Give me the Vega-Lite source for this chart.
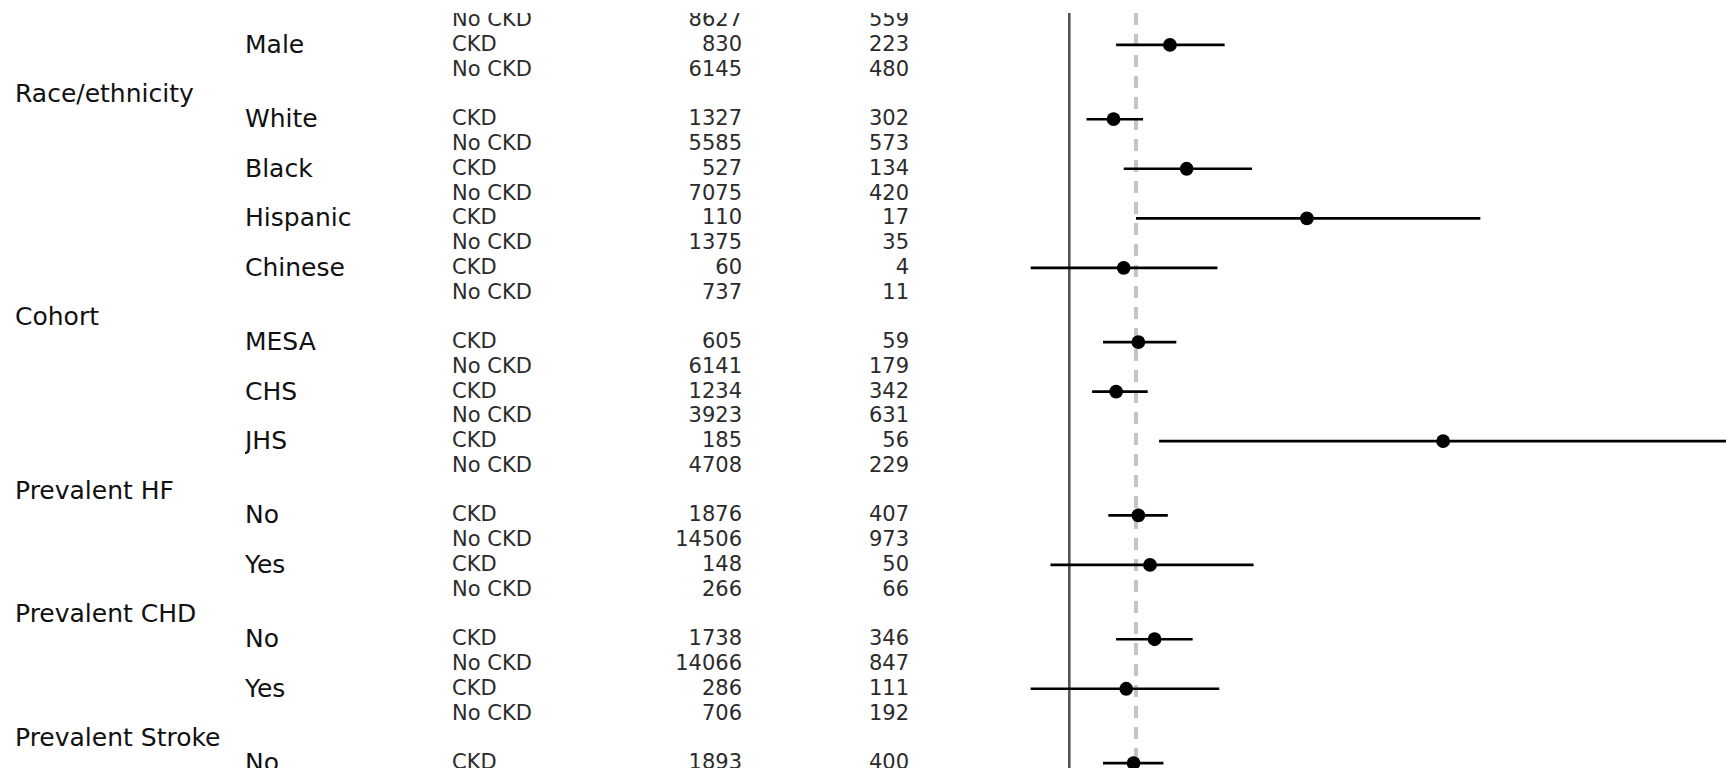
{
  "$schema": "https://vega.github.io/schema/vega-lite/v6.json",
  "padding": {"left": 15, "top": 13, "right": 0, "bottom": 6},
  "bounds": "flush",
  "spacing": 0,
  "config": {
    "view": {"stroke": null},
    "concat": {"spacing": 0},
    "text": {"font": "DejaVu Sans", "baseline": "middle"}
  },
  "datasets": {
    "rows": [
      {"row": 0, "status": "No CKD", "n": 8627, "events": 559},
      {"row": 1, "sub": "Male", "status": "CKD", "n": 830, "events": 223, "hr": 1.40, "lo": 1.17, "hi": 1.68},
      {"row": 2, "status": "No CKD", "n": 6145, "events": 480},
      {"row": 3, "header": "Race/ethnicity"},
      {"row": 4, "sub": "White", "status": "CKD", "n": 1327, "events": 302, "hr": 1.16, "lo": 1.06, "hi": 1.28},
      {"row": 5, "status": "No CKD", "n": 5585, "events": 573},
      {"row": 6, "sub": "Black", "status": "CKD", "n": 527, "events": 134, "hr": 1.48, "lo": 1.20, "hi": 1.84},
      {"row": 7, "status": "No CKD", "n": 7075, "events": 420},
      {"row": 8, "sub": "Hispanic", "status": "CKD", "n": 110, "events": 17, "hr": 2.21, "lo": 1.25, "hi": 3.94},
      {"row": 9, "status": "No CKD", "n": 1375, "events": 35},
      {"row": 10, "sub": "Chinese", "status": "CKD", "n": 60, "events": 4, "hr": 1.20, "lo": 0.88, "hi": 1.64},
      {"row": 11, "status": "No CKD", "n": 737, "events": 11},
      {"row": 12, "header": "Cohort"},
      {"row": 13, "sub": "MESA", "status": "CKD", "n": 605, "events": 59, "hr": 1.26, "lo": 1.12, "hi": 1.43},
      {"row": 14, "status": "No CKD", "n": 6141, "events": 179},
      {"row": 15, "sub": "CHS", "status": "CKD", "n": 1234, "events": 342, "hr": 1.17, "lo": 1.08, "hi": 1.30},
      {"row": 16, "status": "No CKD", "n": 3923, "events": 631},
      {"row": 17, "sub": "JHS", "status": "CKD", "n": 185, "events": 56, "hr": 3.48, "lo": 1.35, "hi": 9.5},
      {"row": 18, "status": "No CKD", "n": 4708, "events": 229},
      {"row": 19, "header": "Prevalent HF"},
      {"row": 20, "sub": "No", "status": "CKD", "n": 1876, "events": 407, "hr": 1.26, "lo": 1.14, "hi": 1.39},
      {"row": 21, "status": "No CKD", "n": 14506, "events": 973},
      {"row": 22, "sub": "Yes", "status": "CKD", "n": 148, "events": 50, "hr": 1.31, "lo": 0.94, "hi": 1.85},
      {"row": 23, "status": "No CKD", "n": 266, "events": 66},
      {"row": 24, "header": "Prevalent CHD"},
      {"row": 25, "sub": "No", "status": "CKD", "n": 1738, "events": 346, "hr": 1.33, "lo": 1.17, "hi": 1.51},
      {"row": 26, "status": "No CKD", "n": 14066, "events": 847},
      {"row": 27, "sub": "Yes", "status": "CKD", "n": 286, "events": 111, "hr": 1.21, "lo": 0.88, "hi": 1.65},
      {"row": 28, "status": "No CKD", "n": 706, "events": 192},
      {"row": 29, "header": "Prevalent Stroke"},
      {"row": 30, "sub": "No", "status": "CKD", "n": 1893, "events": 400, "hr": 1.24, "lo": 1.12, "hi": 1.37}
    ]
  },
  "data": {"name": "rows"},
  "hconcat": [
    {
      "width": 230, "height": 755,
      "transform": [{"filter": "isValid(datum.header)"}],
      "mark": {"type": "text", "align": "left", "fontSize": 25, "color": "#111111", "clip": true},
      "encoding": {
        "x": {"datum": "Subgroup", "type": "nominal", "scale": {"type": "point", "align": 0, "padding": 0}, "axis": null},
        "y": {"field": "row", "type": "quantitative", "scale": {"domain": [-0.29, 30.2], "reverse": true, "nice": false, "zero": false}, "axis": null},
        "text": {"field": "header", "type": "nominal"}
      }
    },
    {
      "width": 207, "height": 755,
      "transform": [{"filter": "isValid(datum.sub)"}],
      "mark": {"type": "text", "align": "left", "fontSize": 25, "color": "#111111", "clip": true},
      "encoding": {
        "x": {"datum": "Level", "type": "nominal", "scale": {"type": "point", "align": 0, "padding": 0}, "axis": null},
        "y": {"field": "row", "type": "quantitative", "scale": {"domain": [-0.29, 30.2], "reverse": true, "nice": false, "zero": false}, "axis": null},
        "text": {"field": "sub", "type": "nominal"}
      }
    },
    {
      "width": 150, "height": 755,
      "transform": [{"filter": "isValid(datum.status)"}],
      "mark": {"type": "text", "align": "left", "fontSize": 21, "color": "#2b2b2b", "clip": true},
      "encoding": {
        "x": {"datum": "CKD status", "type": "nominal", "scale": {"type": "point", "align": 0, "padding": 0}, "axis": null},
        "y": {"field": "row", "type": "quantitative", "scale": {"domain": [-0.29, 30.2], "reverse": true, "nice": false, "zero": false}, "axis": null},
        "text": {"field": "status", "type": "nominal"}
      }
    },
    {
      "width": 140, "height": 755,
      "transform": [{"filter": "isValid(datum.n)"}],
      "mark": {"type": "text", "align": "right", "fontSize": 21, "color": "#2b2b2b", "clip": true},
      "encoding": {
        "x": {"datum": "N", "type": "nominal", "scale": {"type": "point", "align": 1, "padding": 0}, "axis": null},
        "y": {"field": "row", "type": "quantitative", "scale": {"domain": [-0.29, 30.2], "reverse": true, "nice": false, "zero": false}, "axis": null},
        "text": {"field": "n", "type": "quantitative", "format": "d"}
      }
    },
    {
      "width": 167, "height": 755,
      "transform": [{"filter": "isValid(datum.events)"}],
      "mark": {"type": "text", "align": "right", "fontSize": 21, "color": "#2b2b2b", "clip": true},
      "encoding": {
        "x": {"datum": "Events", "type": "nominal", "scale": {"type": "point", "align": 1, "padding": 0}, "axis": null},
        "y": {"field": "row", "type": "quantitative", "scale": {"domain": [-0.29, 30.2], "reverse": true, "nice": false, "zero": false}, "axis": null},
        "text": {"field": "events", "type": "quantitative", "format": "d"}
      }
    },
    {
      "width": 817, "height": 755,
      "layer": [
        {
          "mark": {"type": "rule", "color": "#555555", "strokeWidth": 2, "clip": true},
          "encoding": {
            "x": {"datum": 1, "type": "quantitative", "scale": {"type": "log", "domain": [0.5866, 8.935], "nice": false}, "axis": null}
          }
        },
        {
          "mark": {"type": "rule", "color": "#c4c4c4", "strokeWidth": 3, "strokeDash": [12, 9], "clip": true},
          "encoding": {
            "x": {"datum": 1.25, "type": "quantitative", "scale": {"type": "log", "domain": [0.5866, 8.935], "nice": false}, "axis": null}
          }
        },
        {
          "transform": [{"filter": "isValid(datum.hr)"}],
          "mark": {"type": "rule", "color": "#000000", "strokeWidth": 2.7, "clip": true},
          "encoding": {
            "x": {"field": "lo", "type": "quantitative", "scale": {"type": "log", "domain": [0.5866, 8.935], "nice": false}, "axis": null},
            "x2": {"field": "hi"},
            "y": {"field": "row", "type": "quantitative", "scale": {"domain": [-0.29, 30.2], "reverse": true, "nice": false, "zero": false}, "axis": null}
          }
        },
        {
          "transform": [{"filter": "isValid(datum.hr)"}],
          "mark": {"type": "circle", "color": "#000000", "opacity": 1, "size": 190, "clip": true},
          "encoding": {
            "x": {"field": "hr", "type": "quantitative", "scale": {"type": "log", "domain": [0.5866, 8.935], "nice": false}, "axis": null},
            "y": {"field": "row", "type": "quantitative", "scale": {"domain": [-0.29, 30.2], "reverse": true, "nice": false, "zero": false}, "axis": null}
          }
        }
      ]
    }
  ]
}
